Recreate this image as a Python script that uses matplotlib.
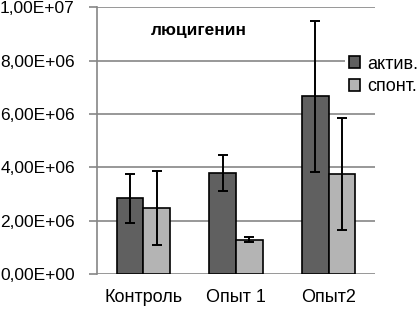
import numpy as np
import matplotlib
matplotlib.use("Agg")
from matplotlib import pyplot as plt
from matplotlib.ticker import FuncFormatter

# Данные
groups = ["Контроль", "Опыт 1", "Опыт2"]
aktiv = [2.84e6, 3.78e6, 6.67e6]
aktiv_err = [0.92e6, 0.68e6, 2.84e6]
spont = [2.47e6, 1.28e6, 3.75e6]
spont_err = [1.38e6, 0.09e6, 2.10e6]
y_ticks = [0, 2e6, 4e6, 6e6, 8e6, 1e7]

plt.rcParams['font.family'] = ['Liberation Sans', 'DejaVu Sans']

fig = plt.figure(figsize=(4.18, 3.12), dpi=100)
ax = fig.add_axes([0.232, 0.122, 0.665, 0.854])

x = np.arange(len(groups))
w = 0.288
err_kw = dict(ecolor='black', elinewidth=1.4, capsize=3.6, capthick=1.4)
ax.bar(x - w / 2, aktiv, w, yerr=aktiv_err, color='#606060', edgecolor='black',
       linewidth=1.2, label='актив.', error_kw=err_kw, zorder=3)
ax.bar(x + w / 2, spont, w, yerr=spont_err, color='#b4b4b4', edgecolor='black',
       linewidth=1.2, label='спонт.', error_kw=err_kw, zorder=3)

ax.set_xlim(-0.5, 2.5)
ax.set_ylim(0, 1e7)
ax.set_yticks(y_ticks)
ax.yaxis.set_major_formatter(FuncFormatter(lambda v, p: ("%.2E" % v).replace('.', ',')))
ax.set_xticks(x)
ax.set_xticklabels(groups)
ax.tick_params(axis='x', length=0, pad=11, labelsize=13)
ax.tick_params(axis='y', length=6, width=1.2, color='#868686', pad=10, labelsize=12.5)
ax.grid(axis='y', color='#868686', linewidth=1.2, zorder=0)
ax.set_axisbelow(True)
for s in ['top', 'right', 'bottom']:
    ax.spines[s].set_visible(False)
ax.spines['left'].set_color('#868686')
ax.spines['left'].set_linewidth(1.2)

ax.text(0.365, 0.915, 'люцигенин', transform=ax.transAxes, ha='center', va='center',
        fontsize=12.5, fontweight='bold')

leg = fig.legend(loc='upper left', bbox_to_anchor=(345 / 418, 1 - 52 / 312),
                 fontsize=13, handlelength=0.65, handleheight=0.65, handletextpad=0.4,
                 labelspacing=0.3, borderpad=0.2, borderaxespad=0, frameon=True)
leg.get_frame().set_edgecolor('none')
leg.get_frame().set_facecolor('white')
leg.get_frame().set_alpha(1)

fig.savefig('out.png', dpi=100)
